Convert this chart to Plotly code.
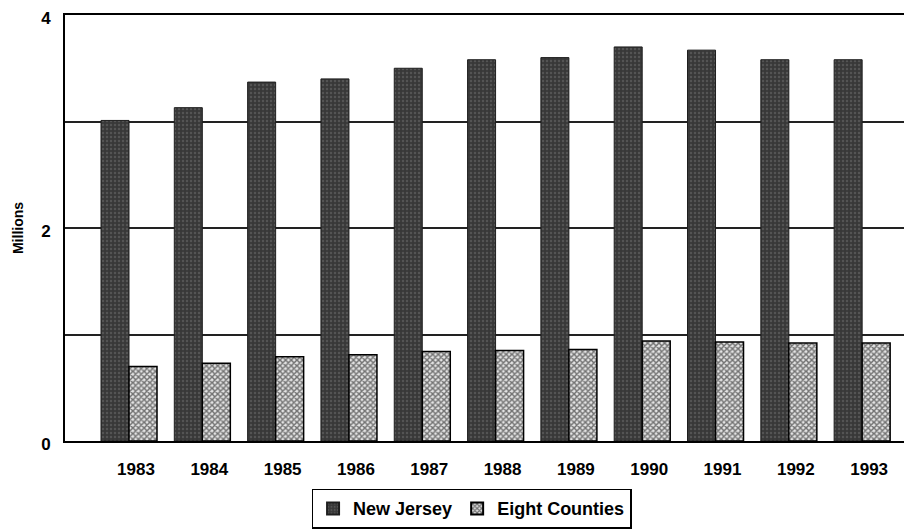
import plotly.graph_objects as go

years = [1983, 1984, 1985, 1986, 1987, 1988, 1989, 1990, 1991, 1992, 1993]
year_labels = [str(y) for y in years]
new_jersey = [3.01, 3.13, 3.37, 3.40, 3.50, 3.58, 3.60, 3.70, 3.67, 3.58, 3.58]
eight_counties = [0.70, 0.73, 0.79, 0.81, 0.84, 0.85, 0.86, 0.94, 0.93, 0.92, 0.92]
y_tick_vals = [0, 1, 2, 3, 4]
y_tick_text = ["0", "", "2", "", "4"]

FONT = "Liberation Sans, Arial, sans-serif"

fig = go.Figure()
fig.add_trace(go.Bar(
    x=years, y=new_jersey, name="New Jersey",
    marker=dict(
        color="#383838",
        line=dict(color="#1e1e1e", width=1),
        pattern=dict(shape=".", bgcolor="#383838", fgcolor="#707070",
                     size=4, solidity=0.3),
    ),
))
fig.add_trace(go.Bar(
    x=years, y=eight_counties, name="Eight Counties",
    marker=dict(
        color="white",
        line=dict(color="black", width=1.5),
        pattern=dict(shape="x", bgcolor="#e4e4e4", fgcolor="#000000",
                     size=4, solidity=0.6),
    ),
))

# page body adds an 8px offset, so the figure is sized to fill the rest
fig.update_layout(
    width=904, height=523,
    margin=dict(l=57, r=0, t=7, b=90, autoexpand=False),
    paper_bgcolor="white", plot_bgcolor="white",
    barmode="group", bargap=0.236, bargroupgap=0,
    font=dict(family=FONT, color="black"),
    showlegend=True,
    legend=dict(
        orientation="h", x=0.48, y=-0.112, xanchor="center", yanchor="top",
        bordercolor="black", borderwidth=1.5, bgcolor="white",
        font=dict(size=18, color="black", weight="bold"),
        itemsizing="constant", tracegroupgap=0,
    ),
)
fig.update_xaxes(
    range=[1982.127, 1993.68],
    tickvals=years, ticktext=year_labels,
    tickfont=dict(size=17, family=FONT, weight="bold"),
    showline=True, linecolor="black", linewidth=2, mirror=True,
    showgrid=False, ticks="", ticklabelstandoff=12, ticklabelshift=7,
    automargin=False, ticklabeloverflow="allow",
)
fig.update_yaxes(
    range=[0, 4],
    tickvals=y_tick_vals, ticktext=y_tick_text,
    tickfont=dict(size=17, weight="bold"),
    showline=True, linecolor="black", linewidth=2, mirror=True,
    showgrid=True, gridcolor="#222222", gridwidth=1.5,
    zeroline=False, ticks="", ticklabelstandoff=9, ticklabelshift=3,
    automargin=False, ticklabeloverflow="allow",
    title=dict(text="Millions", font=dict(size=14, weight="bold"), standoff=14),
)

fig.write_html("out.html")
